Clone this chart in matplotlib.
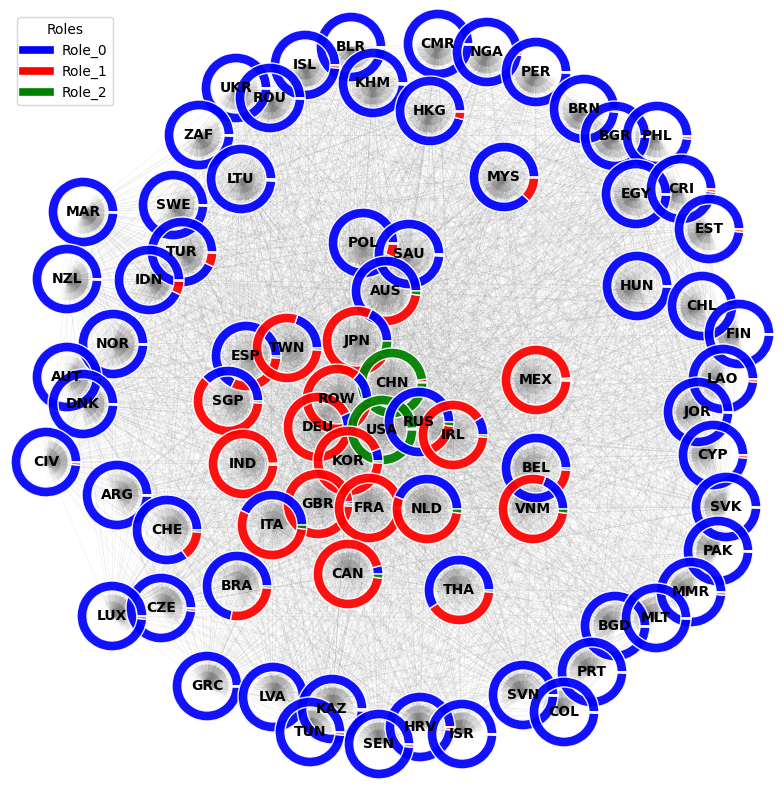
import itertools
import numpy as np
import matplotlib
matplotlib.use('Agg')
import matplotlib.pyplot as plt
from matplotlib.collections import LineCollection, PolyCollection
from matplotlib.lines import Line2D

## countries, role shares (Role_0, Role_1, Role_2)
countries = ['BLR', 'CMR', 'NGA', 'ISL', 'KHM', 'UKR', 'ROU', 'PER', 'HKG', 'BRN',
             'BGR', 'PHL', 'ZAF', 'MYS', 'LTU', 'EGY', 'CRI', 'EST', 'MAR', 'SWE',
             'POL', 'SAU', 'TUR', 'NZL', 'IDN', 'AUS', 'HUN', 'CHL', 'FIN', 'NOR',
             'ESP', 'TWN', 'JPN', 'LAO', 'AUT', 'DNK', 'SGP', 'CHN', 'MEX', 'ROW',
             'JOR', 'DEU', 'USA', 'RUS', 'IRL', 'CIV', 'IND', 'KOR', 'CYP', 'BEL',
             'ARG', 'GBR', 'FRA', 'NLD', 'VNM', 'SVK', 'ITA', 'CHE', 'PAK', 'CAN',
             'BRA', 'THA', 'MMR', 'CZE', 'LUX', 'BGD', 'MLT', 'PRT', 'GRC', 'LVA',
             'KAZ', 'SVN', 'COL', 'HRV', 'TUN', 'SEN', 'ISR']

role0 = [0.995, 0.995, 0.985, 0.985, 0.990, 0.995, 0.995, 0.995, 0.960, 0.985,
         0.995, 0.985, 0.995, 0.880, 0.990, 0.995, 0.985, 0.985, 0.995, 0.995,
         0.930, 0.990, 0.930, 0.995, 0.930, 0.700, 0.995, 0.995, 0.995, 0.995,
         0.680, 0.200, 0.180, 0.985, 0.995, 0.995, 0.380, 0.006, 0.010, 0.140,
         0.995, 0.070, 0.005, 0.780, 0.090, 0.985, 0.005, 0.060, 0.985, 0.880,
         0.995, 0.012, 0.005, 0.440, 0.190, 0.995, 0.430, 0.850, 0.995, 0.040,
         0.720, 0.590, 0.985, 0.985, 0.985, 0.995, 0.995, 0.995, 0.995, 0.995,
         0.990, 0.995, 0.995, 0.985, 0.985, 0.985, 0.995]
role1 = [0.003, 0.003, 0.012, 0.012, 0.007, 0.003, 0.003, 0.003, 0.035, 0.012,
         0.003, 0.012, 0.003, 0.115, 0.007, 0.003, 0.012, 0.012, 0.003, 0.003,
         0.065, 0.007, 0.065, 0.003, 0.065, 0.280, 0.003, 0.003, 0.003, 0.003,
         0.310, 0.790, 0.740, 0.012, 0.003, 0.003, 0.610, 0.012, 0.985, 0.840,
         0.003, 0.920, 0.005, 0.200, 0.900, 0.012, 0.990, 0.930, 0.012, 0.110,
         0.003, 0.978, 0.990, 0.540, 0.790, 0.003, 0.550, 0.140, 0.003, 0.940,
         0.270, 0.400, 0.012, 0.012, 0.012, 0.003, 0.003, 0.003, 0.003, 0.003,
         0.007, 0.003, 0.003, 0.012, 0.012, 0.012, 0.003]
role2 = [1 - a - b for a, b in zip(role0, role1)]

## layout (image coordinates, y downward)
px = [351, 438, 487, 305, 373, 236, 270, 536, 430, 584,
      615, 657, 199, 504, 241, 636, 681, 709, 83, 173,
      363, 409, 182, 67, 149, 386, 637, 702, 739, 113,
      246, 287, 357, 723, 67, 83, 228, 392, 536, 337,
      698, 318, 382, 419, 453, 46, 243, 348, 713, 536,
      117, 318, 369, 427, 533, 726, 272, 167, 718, 348,
      237, 459, 691, 161, 112, 615, 656, 592, 207, 273,
      332, 523, 564, 420, 310, 379, 462]
py = [47, 44, 52, 65, 83, 88, 98, 72, 111, 109,
      136, 136, 135, 177, 179, 194, 189, 229, 212, 205,
      243, 254, 252, 279, 280, 291, 286, 306, 334, 344,
      356, 348, 341, 379, 377, 404, 401, 383, 380, 399,
      412, 427, 430, 422, 435, 462, 464, 461, 455, 468,
      495, 504, 508, 509, 509, 507, 525, 530, 551, 574,
      586, 590, 592, 608, 616, 626, 618, 672, 686, 697,
      709, 695, 712, 727, 732, 744, 734]

W, H = 784, 790
role_names = ['Role_0', 'Role_1', 'Role_2']
role_colors = ['blue', 'red', 'green']

x = np.array(px, float)
y = H - np.array(py, float)
n = len(countries)

fig = plt.figure(figsize=(W / 100, H / 100), dpi=100)
ax = fig.add_axes([0, 0, 1, 1])

# every pair of countries is linked (both directions)
segs = [[(x[i], y[i]), (x[j], y[j])] for i, j in itertools.combinations(range(n), 2)]
ax.add_collection(LineCollection(segs, colors='gray', linewidths=0.3,
                                 alpha=0.18, zorder=0.5))

# arrow heads piling up at the receiving node
heads = []
for i, j in itertools.permutations(range(n), 2):
    d = np.array([x[i] - x[j], y[i] - y[j]])
    u = d / np.hypot(*d)
    p = np.array([-u[1], u[0]])
    tip = np.array([x[j], y[j]])
    for L in (7, 14, 21):
        b = tip + L * u
        heads.append([tip, b + 0.35 * L * p, b - 0.35 * L * p])
ax.add_collection(PolyCollection(heads, facecolors='gray', edgecolors='none',
                                 alpha=0.018, zorder=0.6))

for k, name in enumerate(countries):
    ax.pie([role0[k], role1[k], role2[k]], colors=role_colors, radius=35,
           center=(x[k], y[k]), startangle=0, counterclock=True,
           wedgeprops=dict(width=10, edgecolor='white', linewidth=1,
                           alpha=0.93, zorder=2))
    ax.text(x[k], y[k], name, ha='center', va='center', fontsize=10,
            fontweight='bold', color='black', zorder=3)

handles = [Line2D([0], [0], color=c, lw=5.5) for c in role_colors]
ax.legend(handles, role_names, title='Roles', loc='upper left',
          bbox_to_anchor=(0.0217, 0.9785), borderaxespad=0, fontsize=10)

ax.set_xlim(0, W)
ax.set_ylim(0, H)
ax.set_aspect('equal')
ax.axis('off')
fig.savefig('out.png', dpi=100)
